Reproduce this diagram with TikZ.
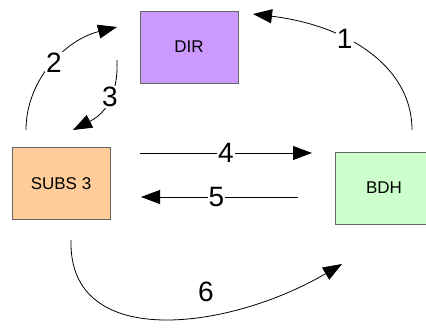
\documentclass[tikz,border=0pt]{standalone}
\usepackage{fontspec}
\setmainfont{Liberation Sans}
\usetikzlibrary{arrows.meta}
\begin{document}
\begin{tikzpicture}[x=1pt,y=-1pt,
  box/.style={draw=black!60, minimum width=98pt, minimum height=72pt, inner sep=0pt, font=\fontsize{17}{17}\selectfont},
  flow/.style={line width=0.8pt, -{Triangle[length=19pt,width=14pt]}},
  num/.style={fill=white, inner sep=1pt, font=\fontsize{28}{28}\selectfont}]
\useasboundingbox (0,0) rectangle (426,331);
\begin{scope}
\clip (0,0) rectangle (426,331);
\node[box, fill={rgb,255:red,204;green,153;blue,255}] (dir) at (189,47) {DIR};
\node[box, fill={rgb,255:red,255;green,204;blue,153}] (subs) at (61,183.5) {SUBS 3};
\node[box, fill={rgb,255:red,204;green,255;blue,204}] (bdh) at (384,188) {BDH};
\end{scope}
% free ends of the connectors
\coordinate (a1) at (412,130);
\coordinate (b1) at (253,14);
\coordinate (a2) at (26,130);
\coordinate (b2) at (117,27);
\coordinate (a3) at (117,60);
\coordinate (b3) at (73,130);
\coordinate (a4) at (140,153);
\coordinate (b4) at (312,153);
\coordinate (a5) at (298,197);
\coordinate (b5) at (141,197);
\coordinate (a6) at (71,240);
\coordinate (b6) at (342,264);
% connectors
\draw[flow] (a1) .. controls (412,65) and (345,25) .. node[num, pos=0.62] (n1) {1} (b1);
\draw[flow] (a2) .. controls (26,80) and (65,40) .. node[num, pos=0.52] (n2) {2} (b2);
\draw[flow] (a3) .. controls (118,85) and (112,110) .. node[num, pos=0.5] (n3) {3} (b3);
\draw[flow] (a4) -- node[num, pos=0.5] (n4) {4} (b4);
\draw[flow] (a5) -- node[num, pos=0.52] (n5) {5} (b5);
\draw[flow] (a6) .. controls (68,352) and (230,330) .. (b6);
\node[num, fill=none] (n6) at (206,292) {6};
\end{tikzpicture}
\end{document}
